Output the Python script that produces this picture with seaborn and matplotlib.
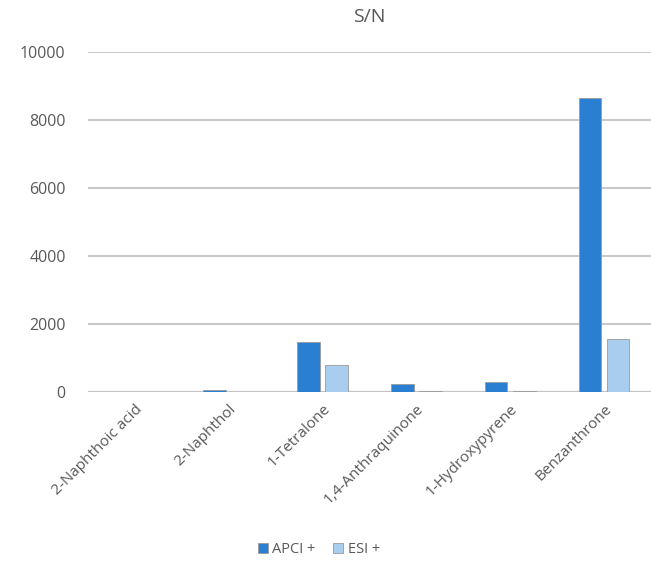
import pandas as pd
import matplotlib.pyplot as plt
import seaborn as sns

compounds = ["2-Naphthoic acid", "2-Naphthol", "1-Tetralone",
             "1,4-Anthraquinone", "1-Hydroxypyrene", "Benzanthrone"]
apci = [0, 60, 1470, 240, 300, 8630]
esi = [0, 5, 800, 30, 30, 1550]

df = pd.DataFrame({
    "compound": compounds * 2,
    "sn": apci + esi,
    "mode": ["APCI +"] * len(compounds) + ["ESI +"] * len(compounds),
})

sns.set_theme(style="white")
plt.rcParams['font.family'] = ['Open Sans', 'DejaVu Sans']
txt = "#595959"

fig = plt.figure(figsize=(6.51, 5.63), dpi=100)
ax = fig.add_axes([0.135, 0.304, 0.865, 0.604])

sns.barplot(data=df, x="compound", y="sn", hue="mode",
            palette={"APCI +": "#2a7fd3", "ESI +": "#a9cdef"},
            width=0.6, gap=0.2, ax=ax, saturation=1, legend=True)
for p in ax.patches:
    p.set_edgecolor("#9a9a9a")
    p.set_linewidth(0.6)

ax.set_ylim(0, 10000)
ax.set_yticks(range(0, 10001, 2000))
ax.yaxis.grid(True, color="#c4c4c4", linewidth=1.3)
ax.set_axisbelow(True)
for s in ax.spines.values():
    s.set_visible(False)
ax.axhline(0, color="#c0c0c0", linewidth=1.6, zorder=0)

ax.set_xlabel("")
ax.set_ylabel("")
ax.tick_params(axis="y", labelsize=11.5, labelcolor=txt, length=0, pad=16)
ax.tick_params(axis="x", labelsize=11, labelcolor=txt, length=0, pad=7)
plt.setp(ax.get_xticklabels(), rotation=45, ha="right", rotation_mode="anchor")

fig.suptitle("S/N", x=0.567, y=0.985, fontsize=14, color=txt)

handles, labels = ax.get_legend_handles_labels()
ax.legend(handles, labels, loc="lower center", bbox_to_anchor=(0.41, -0.525),
          ncol=2, frameon=False, fontsize=10.5, labelcolor=txt,
          handlelength=0.7, handleheight=0.7, handletextpad=0.3, columnspacing=1.2)

plt.savefig("out.png", dpi=100)
